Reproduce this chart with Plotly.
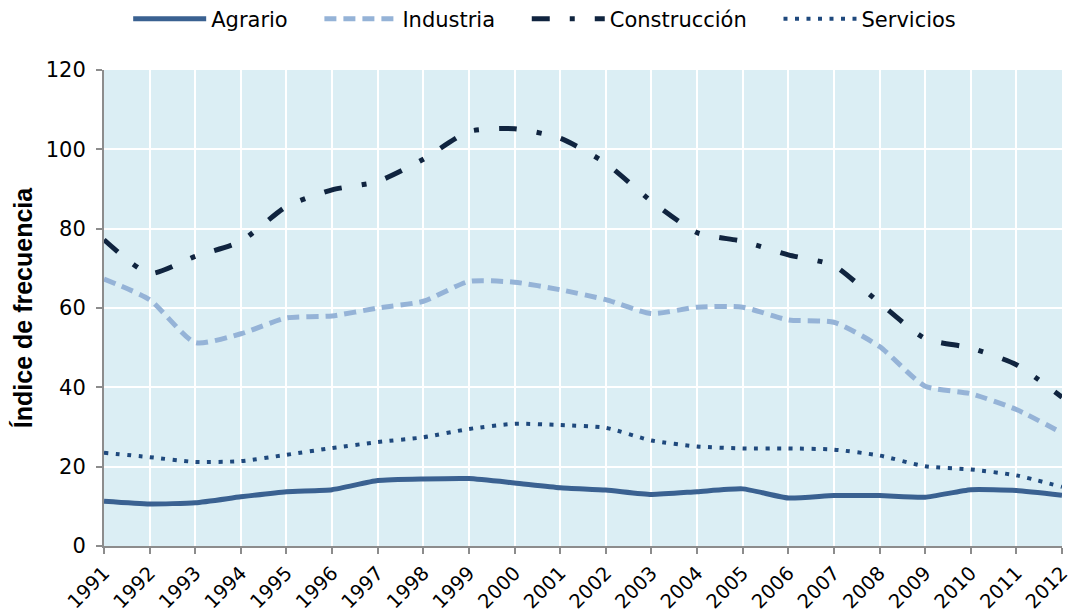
import plotly.graph_objects as go

years = list(range(1991, 2013))
agrario = [11.3, 10.6, 10.9, 12.4, 13.7, 14.2, 16.5, 16.9, 17.0, 15.9, 14.7,
           14.1, 13.0, 13.7, 14.4, 12.1, 12.7, 12.7, 12.3, 14.2, 14.0, 12.8]
industria = [67.3, 62.1, 51.3, 53.5, 57.5, 58.0, 60.0, 61.7, 66.7, 66.5, 64.6,
             62.1, 58.6, 60.2, 60.2, 57.0, 56.4, 50.3, 40.3, 38.4, 34.4, 28.5]
construccion = [77.2, 68.7, 73.0, 76.8, 85.6, 89.8, 91.9, 97.5, 104.5, 105.2, 102.8,
                96.5, 86.9, 79.0, 76.8, 73.4, 70.7, 61.3, 52.3, 49.9, 45.7, 37.5]
servicios = [23.5, 22.4, 21.2, 21.4, 23.0, 24.7, 26.2, 27.4, 29.5, 30.8, 30.5,
             29.8, 26.6, 25.1, 24.6, 24.6, 24.3, 22.8, 20.1, 19.3, 17.8, 14.9]
y_ticks = [0, 20, 40, 60, 80, 100, 120]

PAD = "\u00a0" * 4

fig = go.Figure()
fig.add_trace(go.Scatter(x=years, y=agrario, name="Agrario" + PAD, mode="lines",
                         line=dict(color="#3a6191", width=5, shape="spline", smoothing=0.5)))
fig.add_trace(go.Scatter(x=years, y=industria, name="Industria" + PAD, mode="lines",
                         line=dict(color="#95b3d7", width=5, shape="spline", smoothing=0.6,
                                   dash="12px,7px")))
fig.add_trace(go.Scatter(x=years, y=construccion, name="Construcción" + PAD, mode="lines",
                         line=dict(color="#10243f", width=5, shape="spline", smoothing=0.6,
                                   dash="18px,20px,5px,20px")))
fig.add_trace(go.Scatter(x=years, y=servicios, name="Servicios", mode="lines",
                         line=dict(color="#1f497d", width=4, shape="spline", smoothing=0.6,
                                   dash="4px,7.5px")))

fig.update_layout(
    width=1070, height=614,
    margin=dict(l=104, r=8, t=70, b=68, autoexpand=False),
    paper_bgcolor="white",
    plot_bgcolor="#dbeef4",
    font=dict(family="DejaVu Sans, Verdana, sans-serif", size=20, color="#000000"),
    showlegend=True,
    legend=dict(orientation="h", x=0.46, y=1.107, xanchor="center", yanchor="middle",
                font=dict(size=21), itemwidth=73, traceorder="normal",
                bgcolor="rgba(0,0,0,0)"),
)
fig.update_xaxes(
    range=[1991, 2012], tickmode="array", tickvals=years, ticktext=[str(y) for y in years],
    tickangle=-45, tickfont=dict(size=19.5), showgrid=True, gridcolor="white", gridwidth=2,
    showline=True, linecolor="#8c8c8c", linewidth=2,
    ticks="outside", ticklen=6, tickcolor="#8c8c8c", tickwidth=2, zeroline=False,
    automargin=False, ticklabeloverflow="allow",
)
fig.update_yaxes(
    range=[0, 120], tickmode="array", tickvals=y_ticks, tickfont=dict(size=21),
    showgrid=True, gridcolor="white", gridwidth=2,
    showline=True, linecolor="#8c8c8c", linewidth=2,
    ticks="outside", ticklen=6, tickcolor="#8c8c8c", tickwidth=2, zeroline=False,
    automargin=False, ticklabelstandoff=6, ticklabeloverflow="allow",
    title=dict(text="<b>Índice de frecuencia</b>",
               font=dict(family="Liberation Sans, Arial, sans-serif", size=25), standoff=6),
)

fig.write_html("out.html", config={"displayModeBar": False},
               post_script="document.body.style.margin='0';")
